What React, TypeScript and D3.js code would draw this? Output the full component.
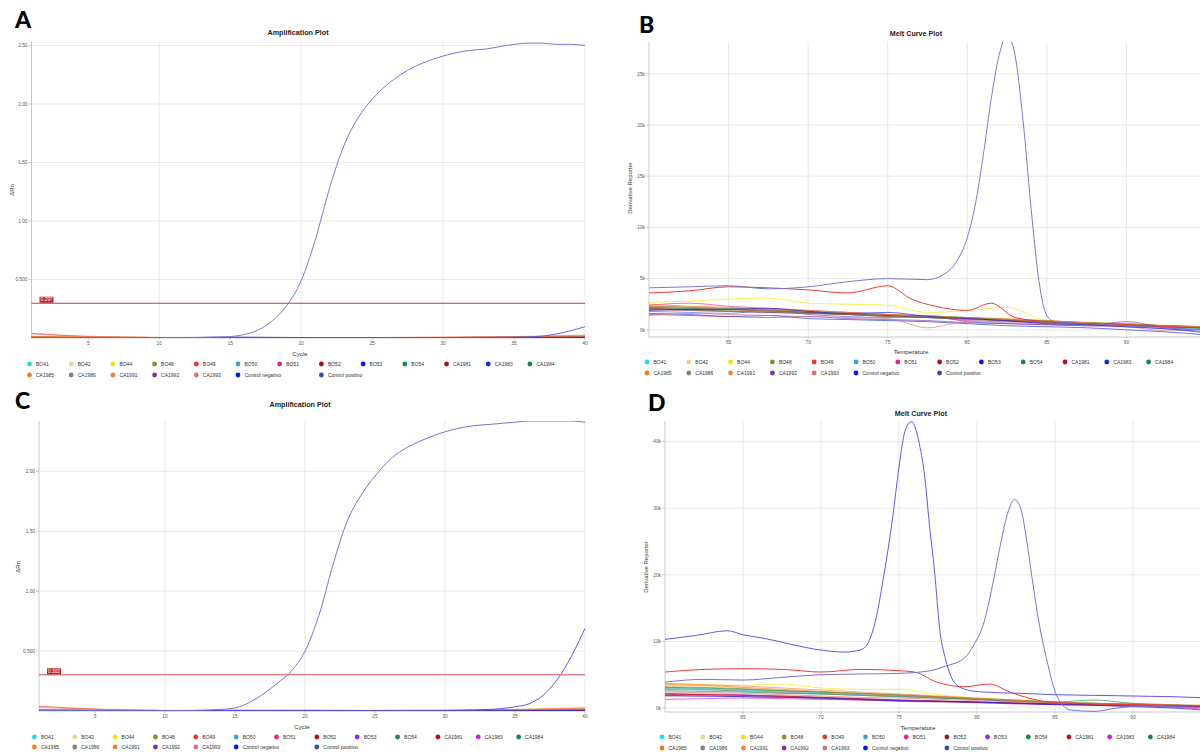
import React from "react";
import * as d3 from "d3";

// legend order (same in all four panels)
const sampleNames = [
  "BO41", "BO42", "BO44", "BO48", "BO49", "BO50", "BO51", "BO52", "BO53", "BO54",
  "CA1981", "CA1983", "CA1984", "CA1985", "CA1986", "CA1991", "CA1992", "CA1993",
  "Control negativo", "Control positivo",
];

const abColors = [
  "#22dbe8", "#e9d68c", "#f3e500", "#8e8b2e", "#f2302e", "#3ba2d2", "#e9238b", "#a9111f", "#1212e6", "#0f8c48",
  "#b3121f", "#152ae6", "#0f8a4c", "#f47c14", "#84846e", "#f27d45", "#84309c", "#d57474", "#0b16ea", "#3b4ba4",
];
const cdColors = [
  "#22dbe8", "#e9d68c", "#f3e500", "#8e8b2e", "#f2302e", "#3ba2d2", "#e9238b", "#a9111f", "#8e2cf2", "#0f8c48",
  "#b3121f", "#c820e8", "#0f8a4c", "#f47c14", "#84846e", "#f27d45", "#84309c", "#d57474", "#0b16ea", "#3b4ba4",
];
const lineOverride: Record<string, string> = { "Control positivo": "#7174cc", BO53: "#5a5ae0" };
const lineOverrideCD: Record<string, string> = { "Control positivo": "#6d70cc", BO53: "#5c4ce4" };

// ---------- amplification plots (ΔRn per cycle) ----------
const ampCycles = [1, 5, 10, 15, 20, 25, 30, 35, 40];
const allCycles = d3.range(1, 41);

const ampA: Record<string, number[]> = {
  BO41: [0.006, 0.004, 0.003, 0.003, 0.003, 0.003, 0.004, 0.005, 0.006],
  BO42: [0.012, 0.008, 0.004, 0.003, 0.003, 0.003, 0.004, 0.006, 0.008],
  BO44: [0.010, 0.007, 0.004, 0.003, 0.002, 0.003, 0.004, 0.006, 0.010],
  BO48: [0.008, 0.005, 0.003, 0.002, 0.002, 0.002, 0.003, 0.004, 0.006],
  BO49: [0.040, 0.012, 0.004, 0.003, 0.003, 0.004, 0.006, 0.010, 0.015],
  BO50: [0.005, 0.003, 0.002, 0.002, 0.002, 0.002, 0.003, 0.004, 0.005],
  BO51: [0.007, 0.004, 0.002, 0.003, 0.002, 0.003, 0.004, 0.006, 0.008],
  BO52: [0.006, 0.004, 0.002, 0.002, 0.003, 0.003, 0.003, 0.004, 0.006],
  BO54: [0.005, 0.003, 0.002, 0.002, 0.002, 0.002, 0.003, 0.004, 0.005],
  CA1981: [0.006, 0.004, 0.002, 0.002, 0.002, 0.003, 0.003, 0.005, 0.007],
  CA1983: [0.004, 0.003, 0.002, 0.004, 0.003, 0.002, 0.003, 0.004, 0.005],
  CA1984: [0.005, 0.003, 0.002, 0.002, 0.002, 0.002, 0.003, 0.004, 0.005],
  CA1985: [0.012, 0.008, 0.004, 0.003, 0.003, 0.004, 0.006, 0.012, 0.025],
  CA1986: [0.006, 0.004, 0.003, 0.002, 0.002, 0.002, 0.003, 0.004, 0.006],
  CA1991: [0.015, 0.010, 0.005, 0.003, 0.003, 0.004, 0.006, 0.010, 0.020],
  CA1992: [0.004, 0.003, 0.003, 0.008, 0.004, 0.003, 0.003, 0.004, 0.005],
  CA1993: [0.035, 0.015, 0.005, 0.003, 0.003, 0.003, 0.004, 0.006, 0.008],
  "Control negativo": [0.003, 0.002, 0.002, 0.006, 0.004, 0.002, 0.002, 0.003, 0.004],
};
const aPositive = [
  0.005, 0.004, 0.004, 0.003, 0.003, 0.003, 0.003, 0.003, 0.003, 0.003,
  0.004, 0.004, 0.005, 0.008, 0.012, 0.03, 0.07, 0.15, 0.28, 0.49,
  0.84, 1.28, 1.64, 1.88, 2.04, 2.16, 2.25, 2.32, 2.37, 2.41,
  2.44, 2.46, 2.47, 2.49, 2.51, 2.52, 2.52, 2.51, 2.51, 2.50,
];
const aLateCycles = [1, 5, 10, 15, 20, 25, 30, 34, 36, 37, 38, 39, 40];
const aLateValues = [0.004, 0.003, 0.002, 0.004, 0.003, 0.003, 0.004, 0.006, 0.01, 0.016, 0.035, 0.062, 0.097];

const ampC: Record<string, number[]> = {
  BO41: [0.006, 0.004, 0.002, 0.003, 0.003, 0.003, 0.003, 0.004, 0.006],
  BO42: [0.010, 0.008, 0.004, 0.003, 0.003, 0.003, 0.004, 0.006, 0.010],
  BO44: [0.012, 0.014, 0.004, 0.003, 0.003, 0.003, 0.004, 0.006, 0.008],
  BO48: [0.008, 0.005, 0.003, 0.002, 0.003, 0.003, 0.003, 0.004, 0.006],
  BO49: [0.040, 0.016, 0.004, 0.003, 0.004, 0.005, 0.006, 0.010, 0.018],
  BO50: [0.005, 0.004, 0.002, 0.002, 0.002, 0.002, 0.003, 0.004, 0.005],
  BO51: [0.006, 0.004, 0.002, 0.003, 0.006, 0.004, 0.003, 0.005, 0.007],
  BO52: [0.006, 0.004, 0.002, 0.002, 0.003, 0.004, 0.003, 0.004, 0.006],
  BO54: [0.005, 0.003, 0.002, 0.002, 0.002, 0.003, 0.003, 0.004, 0.005],
  CA1981: [0.006, 0.004, 0.002, 0.002, 0.003, 0.003, 0.003, 0.005, 0.007],
  CA1983: [0.004, 0.003, 0.002, 0.003, 0.005, 0.003, 0.003, 0.004, 0.005],
  CA1984: [0.005, 0.003, 0.002, 0.002, 0.002, 0.002, 0.003, 0.004, 0.005],
  CA1985: [0.012, 0.010, 0.004, 0.003, 0.003, 0.004, 0.006, 0.014, 0.028],
  CA1986: [0.006, 0.004, 0.003, 0.002, 0.002, 0.002, 0.003, 0.004, 0.006],
  CA1991: [0.014, 0.010, 0.005, 0.003, 0.003, 0.004, 0.006, 0.010, 0.022],
  CA1992: [0.004, 0.003, 0.003, 0.006, 0.005, 0.003, 0.003, 0.004, 0.005],
  CA1993: [0.030, 0.014, 0.004, 0.003, 0.003, 0.003, 0.004, 0.006, 0.008],
  "Control negativo": [0.003, 0.002, 0.002, 0.005, 0.004, 0.002, 0.002, 0.003, 0.004],
};
const cPositive = [
  0.005, 0.004, 0.004, 0.003, 0.003, 0.003, 0.003, 0.003, 0.003, 0.004,
  0.004, 0.005, 0.008, 0.014, 0.025, 0.07, 0.14, 0.23, 0.33, 0.50,
  0.80, 1.22, 1.58, 1.80, 1.96, 2.09, 2.18, 2.24, 2.29, 2.33,
  2.36, 2.38, 2.39, 2.40, 2.41, 2.42, 2.42, 2.42, 2.42, 2.41,
];
const cLateCycles = [1, 5, 10, 15, 20, 25, 30, 32, 33, 34, 35, 36, 37, 38, 39, 40];
const cLateValues = [0.004, 0.003, 0.002, 0.003, 0.003, 0.003, 0.004, 0.008, 0.012, 0.02, 0.035, 0.06, 0.13, 0.26, 0.45, 0.69];

// ---------- melt curve plots (derivative reporter, thousands) ----------
const meltTemps = [60, 62.5, 65, 67.5, 70, 72.5, 75, 77.5, 80, 82.5, 85, 87.5, 90, 92.5, 95];

const meltB: Record<string, number[]> = {
  BO41: [2.2, 2.1, 2.0, 1.9, 1.7, 1.6, 1.4, 1.3, 1.1, 0.9, 0.7, 0.5, 0.4, 0.3, 0.1],
  BO42: [2.4, 2.3, 2.1, 2.0, 1.8, 1.7, 1.5, 1.3, 1.1, 1.0, 0.8, 0.6, 0.5, 0.3, 0.2],
  BO44: [2.7, 2.8, 3.0, 3.1, 2.6, 2.5, 2.4, 1.7, 1.9, 2.2, 0.9, 0.7, 0.5, 0.4, 0.2],
  BO48: [2.1, 2.0, 1.9, 1.9, 1.7, 1.5, 1.4, 1.2, 1.1, 0.9, 0.8, 0.6, 0.5, 0.3, 0.2],
  BO50: [1.9, 2.0, 1.8, 1.7, 1.6, 1.5, 1.3, 1.2, 1.0, 0.9, 0.7, 0.6, 0.4, 0.3, 0.1],
  BO51: [2.4, 2.6, 2.3, 2.1, 1.9, 1.7, 1.5, 1.3, 0.9, 0.8, 0.7, 0.5, 0.4, 0.3, 0.2],
  BO52: [2.0, 1.9, 1.8, 1.7, 1.6, 1.5, 1.3, 1.2, 1.1, 0.9, 0.8, 0.6, 0.5, 0.4, 0.2],
  BO53: [1.8, 1.7, 1.6, 1.9, 1.5, 1.3, 1.2, 1.4, 0.8, 0.6, 0.5, 0.4, 0.3, 0.1, -0.3],
  BO54: [2.2, 2.1, 2.0, 1.9, 1.7, 1.6, 1.4, 1.3, 1.2, 1.0, 0.8, 0.7, 0.5, 0.4, 0.3],
  CA1981: [2.1, 2.0, 2.0, 1.8, 1.7, 1.5, 1.4, 1.2, 1.1, 0.9, 0.8, 0.6, 0.5, 0.3, 0.2],
  CA1983: [1.6, 1.5, 1.3, 1.4, 1.1, 1.0, 0.9, 0.8, 0.6, 0.4, 0.3, 0.2, 0.0, -0.2, -0.5],
  CA1984: [2.3, 2.2, 2.1, 2.0, 1.8, 1.6, 1.5, 1.3, 1.2, 1.0, 0.9, 0.7, 0.6, 0.4, 0.3],
  CA1985: [2.5, 2.3, 2.2, 2.0, 1.9, 1.7, 1.5, 1.4, 1.2, 1.1, 0.9, 0.7, 0.6, 0.4, 0.3],
  CA1986: [2.0, 1.9, 1.8, 1.8, 1.6, 1.5, 1.3, 1.2, 1.0, 0.9, 0.7, 0.6, 0.5, 0.3, 0.2],
  CA1991: [2.3, 2.2, 2.0, 1.9, 1.8, 1.6, 1.5, 1.3, 1.1, 1.0, 0.8, 0.7, 0.5, 0.4, 0.3],
  CA1992: [1.5, 1.4, 1.3, 1.2, 1.3, 1.1, 1.0, 0.9, 0.7, 0.6, 0.5, 0.4, 0.8, 0.2, 0.0],
  CA1993: [1.4, 1.6, 1.5, 1.4, 1.3, 1.2, 1.1, 0.2, 0.8, 0.7, 0.6, 0.4, 0.3, -0.1, 0.1],
  "Control negativo": [1.9, 2.0, 2.0, 2.1, 1.8, 1.6, 1.7, 1.3, 1.1, 0.9, 0.6, 0.5, 0.3, 0.1, -0.2],
};
const bRedTemps = [60, 62.5, 65, 67.5, 70, 72.5, 75, 76.5, 78, 80, 81.5, 83, 85, 87.5, 90, 92.5, 95];
const bRedValues = [3.6, 3.8, 4.2, 4.1, 3.9, 3.6, 4.3, 3.0, 2.3, 1.9, 2.6, 1.2, 0.8, 0.6, 0.5, 0.3, 0.2];
const bPosTemps = [60, 62.5, 65, 67.5, 70, 72.5, 75, 77.5, 78.5, 79.3, 80, 80.5, 81, 81.5, 82, 82.5, 83, 83.5, 84, 84.5, 85, 85.5, 87.5, 90, 92.5, 95];
const bPosValues = [4.1, 4.2, 4.3, 4.0, 4.2, 4.7, 5.0, 4.9, 5.4, 6.6, 9.0, 12.2, 17.0, 22.5, 26.8, 28.8, 26.8, 20.5, 12.0, 4.8, 1.4, 0.8, 0.6, 0.4, 0.2, 0.0];

const meltD: Record<string, number[]> = {
  BO41: [3.0, 2.9, 2.7, 2.5, 2.3, 2.1, 1.9, 1.6, 1.3, 1.1, 0.8, 0.6, 0.5, 0.3, 0.2],
  BO42: [3.4, 3.3, 3.0, 2.7, 2.4, 2.1, 1.8, 1.6, 1.4, 1.1, 0.9, 0.7, 0.5, 0.4, 0.3],
  BO44: [3.6, 3.5, 3.4, 3.6, 3.0, 2.8, 2.8, 2.0, 1.5, 1.2, 0.8, 0.6, 0.5, 0.4, 0.3],
  BO48: [3.2, 3.1, 2.9, 2.6, 2.4, 2.2, 1.9, 1.7, 1.4, 1.2, 0.9, 0.7, 0.6, 0.4, 0.3],
  BO50: [2.8, 2.7, 2.6, 2.4, 2.2, 2.0, 1.8, 1.5, 1.3, 1.0, 0.8, 0.6, 0.5, 0.4, 0.2],
  BO51: [2.0, 2.1, 2.0, 1.8, 1.6, 1.4, 1.2, 1.0, 0.9, 0.8, 0.6, 0.5, 0.4, 0.3, 0.1],
  BO52: [2.2, 2.0, 1.9, 1.8, 1.6, 1.4, 1.2, 1.1, 0.9, 0.7, 0.6, 0.5, 0.4, 0.3, 0.2],
  BO54: [3.1, 3.0, 2.8, 2.6, 2.4, 2.2, 2.0, 1.7, 1.4, 1.1, 0.9, 1.2, 0.7, 0.5, 0.3],
  CA1981: [2.1, 2.0, 1.9, 1.7, 1.5, 1.3, 1.1, 1.0, 0.9, 0.7, 0.6, 0.5, 0.4, 0.3, 0.2],
  CA1983: [1.3, 1.4, 1.5, 1.4, 1.3, 1.2, 1.1, 1.0, 0.8, 0.6, 0.5, 0.4, 0.3, 0.1, -0.2],
  CA1984: [2.6, 2.5, 2.4, 2.2, 2.1, 1.9, 1.7, 1.5, 1.3, 1.0, 0.8, 0.7, 0.6, 0.4, 0.3],
  CA1985: [3.5, 3.4, 3.1, 2.8, 2.5, 2.2, 1.9, 1.7, 1.4, 1.1, 0.8, 0.6, 0.5, 0.4, 0.3],
  CA1986: [2.9, 2.8, 2.5, 2.3, 2.1, 1.9, 1.7, 1.5, 1.3, 1.0, 0.8, 0.7, 0.5, 0.4, 0.3],
  CA1991: [3.7, 3.5, 3.3, 3.0, 2.7, 2.4, 2.1, 1.8, 1.5, 1.2, 0.9, 0.7, 0.6, 0.5, 0.4],
  CA1992: [1.8, 1.8, 1.7, 1.6, 1.4, 1.2, 1.0, 0.9, 0.8, 0.7, 0.6, 0.5, 0.4, 0.3, 0.2],
  CA1993: [2.4, 2.3, 2.2, 2.0, 1.8, 1.6, 1.5, 1.3, 1.1, 0.9, 0.8, 0.6, 0.5, 0.4, 0.3],
  "Control negativo": [1.9, 1.8, 1.7, 1.6, 1.5, 1.3, 1.1, 1.0, 0.9, 0.7, 0.5, 0.4, 0.2, 0.0, -0.4],
};
const dRedTemps = [60, 62.5, 65, 67.5, 70, 72.5, 75, 76, 77.4, 79.2, 80.8, 82.1, 83.3, 85, 87.5, 90, 92.5, 95];
const dRedValues = [5.4, 5.8, 5.9, 5.8, 5.4, 5.8, 5.6, 5.4, 3.9, 3.2, 3.6, 2.4, 1.5, 0.8, 0.6, 0.5, 0.4, 0.3];
const dPeak1Temps = [60, 62, 64, 65, 66.5, 68, 70, 71.5, 72.5, 73, 73.5, 74, 74.6, 75, 75.4, 75.8, 76.3, 76.7, 76.9, 77.3, 77.6, 78, 78.6, 79.4, 80.4, 82.8, 85, 87.5, 90, 92.5, 95];
const dPeak1Values = [10.3, 10.9, 11.6, 11.0, 10.4, 9.6, 8.7, 8.4, 8.7, 9.7, 13.2, 19.5, 28.7, 36.2, 41.7, 43.0, 39.7, 33.7, 28.7, 20.0, 12.0, 7.2, 3.7, 2.7, 2.4, 2.2, 2.0, 1.9, 1.8, 1.7, 1.5];
const dPosTemps = [60, 62.5, 65, 67.5, 70, 72.5, 75, 77, 78, 79.2, 79.8, 80.4, 81, 81.5, 82, 82.4, 82.8, 83.1, 83.5, 84, 84.5, 85, 85.5, 86, 87.5, 89, 90.6, 92.5, 95];
const dPosValues = [3.9, 4.3, 4.2, 4.6, 5.0, 5.1, 5.2, 5.6, 6.3, 7.5, 9.5, 12.5, 18.5, 24.5, 29.5, 31.3, 30.0, 26.5, 20.0, 12.5, 7.0, 2.5, 0.4, -0.3, -0.5, 0.0, 0.3, 0.2, 0.0];

type Line = { name: string; xs: number[]; ys: number[]; special: boolean };

function buildLines(shared: number[], vals: Record<string, number[]>, special: Record<string, [number[], number[]]>): Line[] {
  const base = sampleNames.filter(n => vals[n] && !special[n]).map(n => ({ name: n, xs: shared, ys: vals[n], special: false }));
  const top = sampleNames.filter(n => special[n]).map(n => ({ name: n, xs: special[n][0], ys: special[n][1], special: true }));
  return [...base, ...top];
}

const linesA = buildLines(ampCycles, ampA, { BO53: [aLateCycles, aLateValues], "Control positivo": [allCycles, aPositive] });
const linesC = buildLines(ampCycles, ampC, { BO53: [cLateCycles, cLateValues], "Control positivo": [allCycles, cPositive] });
const linesB = buildLines(meltTemps, meltB, { BO49: [bRedTemps, bRedValues], "Control positivo": [bPosTemps, bPosValues] });
const linesD = buildLines(meltTemps, meltD, { BO49: [dRedTemps, dRedValues], BO53: [dPeak1Temps, dPeak1Values], "Control positivo": [dPosTemps, dPosValues] });

const FONT = "'Liberation Sans', Arial, sans-serif";

type PanelProps = {
  id: string;
  letter: string; letterPos: [number, number];
  title: string; titlePos: [number, number];
  xDomain: [number, number]; xRange: [number, number];
  yDomain: [number, number]; yRange: [number, number];
  xTicks: number[]; xGrid: number[]; yTicks: number[]; yFmt: (v: number) => string;
  xLabel: string; xLabelPos: [number, number];
  yLabel: string; yLabelPos: [number, number];
  lines: Line[]; colors: string[]; overrides: Record<string, string>;
  legendX: number; legendStep: number; legendRows: [number, number];
  threshold?: { value: number; label: string; color: string; width: number };
};

function Panel(p: PanelProps) {
  const x = d3.scaleLinear().domain(p.xDomain).range(p.xRange);
  const y = d3.scaleLinear().domain(p.yDomain).range(p.yRange);
  const x0 = p.xRange[0];
  const right = Math.min(p.xRange[1], 1200);
  const yb = p.yRange[0];
  const yt = p.yRange[1];
  const colorOf = (n: string) => p.overrides[n] || p.colors[sampleNames.indexOf(n)];
  const path = (l: Line) =>
    d3.line<number>()
      .x((_, i) => x(l.xs[i]))
      .y(d => y(d))
      .curve(d3.curveMonotoneX)(l.ys) || "";

  const legendPos = (i: number): [number, number] => {
    if (i < 13) return [p.legendX + i * p.legendStep, p.legendRows[0]];
    const col = i === 19 ? 7 : i - 13;
    return [p.legendX + col * p.legendStep, p.legendRows[1]];
  };

  return (
    <g fontFamily={FONT}>
      <defs>
        <clipPath id={p.id}>
          <rect x={x0} y={yt} width={right - x0} height={yb - yt} />
        </clipPath>
      </defs>
      <text x={p.letterPos[0]} y={p.letterPos[1]} fontSize={23} fontWeight={900} fontFamily="Lato, 'Liberation Sans', sans-serif" fill="#000">{p.letter}</text>
      <text x={p.titlePos[0]} y={p.titlePos[1]} fontSize={7.2} fontWeight={700} textAnchor="middle" fill="#222">{p.title}</text>

      {p.xGrid.map(t => (
        <line key={"gx" + t} x1={x(t)} x2={x(t)} y1={yt} y2={yb} stroke="#e3e3e3" strokeWidth={0.8} />
      ))}
      {p.yTicks.map(t => (
        <line key={"gy" + t} x1={x0} x2={right} y1={y(t)} y2={y(t)} stroke="#e3e3e3" strokeWidth={0.8} />
      ))}
      <line x1={x0} x2={x0} y1={yt} y2={yb} stroke="#c4c4c4" strokeWidth={0.9} />
      <line x1={x0} x2={right} y1={yb} y2={yb} stroke="#c4c4c4" strokeWidth={0.9} />
      {p.yTicks.map(t => (
        <g key={"yt" + t}>
          <line x1={x0 - 3} x2={x0} y1={y(t)} y2={y(t)} stroke="#aaa" strokeWidth={0.6} />
          <text x={x0 - 4} y={y(t) + 1.8} fontSize={4.8} textAnchor="end" fill="#555">{p.yFmt(t)}</text>
        </g>
      ))}
      {p.xTicks.map(t => (
        <g key={"xt" + t}>
          <line x1={x(t)} x2={x(t)} y1={yb} y2={yb + 2} stroke="#aaa" strokeWidth={0.6} />
          <text x={x(t)} y={yb + 7} fontSize={4.8} textAnchor="middle" fill="#555">{t}</text>
        </g>
      ))}
      <text x={p.xLabelPos[0]} y={p.xLabelPos[1]} fontSize={6.2} textAnchor="middle" fill="#333">{p.xLabel}</text>
      <text transform={`translate(${p.yLabelPos[0]},${p.yLabelPos[1]}) rotate(-90)`} fontSize={6} textAnchor="middle" fill="#333">{p.yLabel}</text>

      <g clipPath={`url(#${p.id})`}>
        {p.lines.map(l => (
          <path key={l.name} d={path(l)} fill="none" stroke={colorOf(l.name)} strokeWidth={l.special ? 0.95 : 0.75} strokeOpacity={l.special ? 1 : 0.85} />
        ))}
      </g>

      {p.threshold && (
        <g>
          <line x1={x0} x2={right} y1={y(p.threshold.value)} y2={y(p.threshold.value)} stroke={p.threshold.color} strokeWidth={p.threshold.width} />
          <rect x={x0 + 8} y={y(p.threshold.value) - 6.5} width={14} height={6} fill="#b8232b" />
          <text x={x0 + 15} y={y(p.threshold.value) - 1.9} fontSize={4.8} textAnchor="middle" fill="#fff">{p.threshold.label}</text>
        </g>
      )}

      {sampleNames.map((n, i) => {
        const [lx, ly] = legendPos(i);
        return (
          <g key={"lg" + n}>
            <circle cx={lx} cy={ly} r={2.4} fill={p.colors[i]} />
            <text x={lx + 6.5} y={ly + 1.8} fontSize={5} fill="#333">{n}</text>
          </g>
        );
      })}
    </g>
  );
}

const cycleTicks = [5, 10, 15, 20, 25, 30, 35, 40];
const cycleGrid = [10, 20, 30, 40];
const tempTicks = [65, 70, 75, 80, 85, 90];
const ampFmt = (v: number) => (v === 0.5 ? "0.500" : v.toFixed(2));
const kFmt = (v: number) => `${v}k`;

export default function App() {
  return (
    <svg width={1200} height={754} style={{ position: "absolute", left: 0, top: 0, display: "block", background: "#fff" }}>
      <rect width={1200} height={754} fill="#fff" />
      <Panel
        id="clipA" letter="A" letterPos={[15, 28]} title="Amplification Plot" titlePos={[298, 35]}
        xDomain={[1, 40]} xRange={[31.5, 585]} yDomain={[0, 2.53]} yRange={[338, 42]}
        xTicks={cycleTicks} xGrid={cycleGrid} yTicks={[0.5, 1, 1.5, 2, 2.5]} yFmt={ampFmt}
        xLabel="Cycle" xLabelPos={[300, 356]} yLabel="ΔRn" yLabelPos={[14, 190]}
        lines={linesA} colors={abColors} overrides={lineOverride}
        legendX={29.5} legendStep={41.7} legendRows={[364, 375]}
        threshold={{ value: 0.297, label: "0.297", color: "#c8383c", width: 1.1 }}
      />
      <Panel
        id="clipB" letter="B" letterPos={[639, 33]} title="Melt Curve Plot" titlePos={[916, 36]}
        xDomain={[60, 95]} xRange={[649, 1206]} yDomain={[-0.7, 28.1]} yRange={[337, 42]}
        xTicks={tempTicks} xGrid={tempTicks} yTicks={[0, 5, 10, 15, 20, 25]} yFmt={kFmt}
        xLabel="Temperature" xLabelPos={[911, 354]} yLabel="Derivative Reporter" yLabelPos={[632, 188]}
        lines={linesB} colors={abColors} overrides={lineOverride}
        legendX={647} legendStep={41.8} legendRows={[362, 373]}
      />
      <Panel
        id="clipC" letter="C" letterPos={[15, 409]} title="Amplification Plot" titlePos={[300, 407]}
        xDomain={[1, 40]} xRange={[39, 585]} yDomain={[0, 2.42]} yRange={[711, 421]}
        xTicks={cycleTicks} xGrid={cycleGrid} yTicks={[0.5, 1, 1.5, 2]} yFmt={ampFmt}
        xLabel="Cycle" xLabelPos={[302, 729]} yLabel="ΔRn" yLabelPos={[20, 567]}
        lines={linesC} colors={cdColors} overrides={lineOverrideCD}
        legendX={34.4} legendStep={40.35} legendRows={[737, 747]}
        threshold={{ value: 0.302, label: "0.302", color: "#e0868c", width: 1.6 }}
      />
      <Panel
        id="clipD" letter="D" letterPos={[648, 411]} title="Melt Curve Plot" titlePos={[921, 416]}
        xDomain={[60, 95]} xRange={[665, 1211]} yDomain={[-0.6, 43.1]} yRange={[712, 421]}
        xTicks={tempTicks} xGrid={tempTicks} yTicks={[0, 10, 20, 30, 40]} yFmt={kFmt}
        xLabel="Temperature" xLabelPos={[918, 730]} yLabel="Derivative Reporter" yLabelPos={[648, 567]}
        lines={linesD} colors={cdColors} overrides={lineOverrideCD}
        legendX={662} legendStep={40.7} legendRows={[737, 748]}
      />
    </svg>
  );
}
